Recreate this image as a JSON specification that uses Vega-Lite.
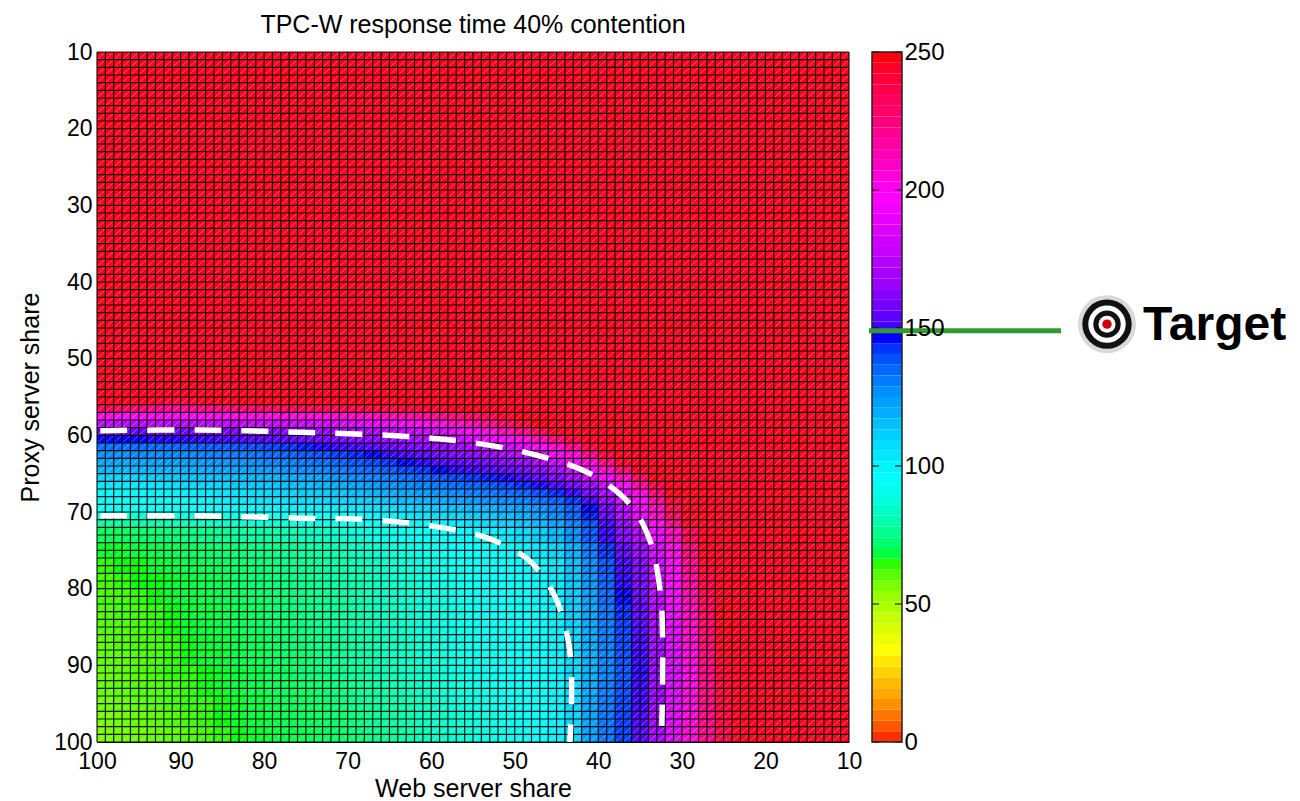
{"$schema":"https://vega.github.io/schema/vega-lite/v6.json","padding":{"left":18,"top":13,"right":0,"bottom":0},"bounds":"flush","spacing":23,"config":{"view":{"stroke":null},"font":"Liberation Sans","axis":{"grid":false,"ticks":false,"labelFlush":false,"labelFontSize":23,"titleFontSize":25,"titleFontWeight":"normal","labelColor":"#000","titleColor":"#000","domainColor":"#000"}},"hconcat":[{"width":752,"height":690,"title":{"text":"TPC-W response time 40% contention","fontSize":25,"fontWeight":"normal","color":"#000","offset":3},"encoding":{"color":{"field":"v","type":"quantitative","legend":null,"scale":{"domain":[0,33,65,97,146,197,250],"range":["#ff0000","#ffff00","#00ff00","#00ffff","#0000ff","#ff00ff","#ff0000"]}}},"layer":[{"data":{"values":[{"x":100,"xe":10,"y":10,"ye":100,"v":246}]},"mark":"rect","encoding":{"x":{"field":"x","type":"quantitative","scale":{"domain":[100,10],"nice":false,"zero":false},"axis":{"values":[100,90,80,70,60,50,40,30,20,10],"title":"Web server share","labelPadding":8,"titlePadding":3,"labelOverlap":false}},"x2":{"field":"xe"},"y":{"field":"y","type":"quantitative","scale":{"domain":[100,10],"nice":false,"zero":false},"axis":{"values":[100,90,80,70,60,50,40,30,20,10],"title":"Proxy server share","labelPadding":5,"titlePadding":10,"labelOverlap":false}},"y2":{"field":"ye"}}},{"data":{"format":{"type":"csv","parse":{"x":"number","y":"number","v":"number"}},"values":"x,y,v\n99,73,70\n97,73,70\n95,73,71\n93,73,72\n91,73,73\n89,73,74\n87,73,75\n85,73,76\n83,73,77\n81,73,78\n79,73,79\n77,73,80\n75,73,82\n73,73,83\n71,73,85\n69,73,87\n67,73,89\n65,73,91\n63,73,93\n61,73,95\n59,73,97\n57,73,99\n55,73,100\n53,73,102\n51,73,105\n49,73,108\n47,73,112\n45,73,118\n43,73,127\n41,73,138\n39,73,149\n37,73,161\n35,73,172\n33,73,190\n31,73,211\n29,73,234\n99,75,66\n97,75,66\n95,75,67\n93,75,68\n91,75,69\n89,75,70\n87,75,71\n85,75,72\n83,75,73\n81,75,74\n79,75,75\n77,75,76\n75,75,78\n73,75,79\n71,75,81\n69,75,83\n67,75,85\n65,75,87\n63,75,89\n61,75,91\n59,75,93\n57,75,95\n55,75,97\n53,75,98\n51,75,100\n49,75,102\n47,75,105\n45,75,111\n43,75,120\n41,75,132\n39,75,143\n37,75,154\n35,75,165\n33,75,182\n31,75,203\n29,75,226\n27,75,246\n99,77,64\n97,77,65\n95,77,65\n93,77,66\n91,77,67\n89,77,68\n87,77,69\n85,77,70\n83,77,71\n81,77,72\n79,77,73\n77,77,75\n75,77,76\n73,77,78\n71,77,79\n69,77,81\n67,77,83\n65,77,85\n63,77,87\n61,77,89\n59,77,91\n57,77,93\n55,77,95\n53,77,96\n51,77,98\n49,77,99\n47,77,101\n45,77,106\n43,77,116\n41,77,128\n39,77,139\n37,77,150\n35,77,161\n33,77,178\n31,77,199\n29,77,221\n27,77,243\n99,79,63\n97,79,64\n95,79,65\n93,79,65\n91,79,66\n89,79,67\n87,79,68\n85,79,69\n83,79,71\n81,79,72\n79,79,73\n77,79,74\n75,79,75\n73,79,77\n71,79,79\n69,79,80\n67,79,82\n65,79,84\n63,79,86\n61,79,88\n59,79,90\n57,79,92\n55,79,94\n53,79,96\n51,79,97\n49,79,98\n47,79,100\n45,79,105\n43,79,114\n41,79,126\n39,79,137\n37,79,148\n35,79,158\n33,79,175\n31,79,196\n29,79,218\n27,79,239\n99,81,63\n97,81,63\n95,81,64\n93,81,65\n91,81,66\n89,81,67\n87,81,68\n85,81,69\n83,81,70\n81,81,71\n79,81,72\n77,81,73\n75,81,75\n73,81,76\n71,81,78\n69,81,80\n67,81,82\n65,81,84\n63,81,86\n61,81,88\n59,81,90\n57,81,92\n55,81,94\n53,81,95\n51,81,97\n49,81,98\n47,81,100\n45,81,104\n43,81,113\n41,81,124\n39,81,135\n37,81,146\n35,81,156\n33,81,173\n31,81,193\n29,81,215\n27,81,236\n99,83,62\n97,83,63\n95,83,63\n93,83,64\n91,83,65\n89,83,66\n87,83,67\n85,83,68\n83,83,69\n81,83,70\n79,83,72\n77,83,73\n75,83,74\n73,83,76\n71,83,77\n69,83,79\n67,83,81\n65,83,83\n63,83,85\n61,83,87\n59,83,89\n57,83,91\n55,83,93\n53,83,95\n51,83,96\n49,83,98\n47,83,99\n45,83,103\n43,83,112\n41,83,123\n39,83,133\n37,83,144\n35,83,154\n33,83,171\n31,83,190\n29,83,212\n27,83,232\n25,83,248\n99,85,62\n97,85,62\n95,85,63\n93,85,64\n91,85,65\n89,85,66\n87,85,67\n85,85,68\n83,85,69\n81,85,70\n79,85,71\n77,85,72\n75,85,74\n73,85,75\n71,85,77\n69,85,79\n67,85,81\n65,85,83\n63,85,85\n61,85,87\n59,85,89\n57,85,91\n55,85,93\n53,85,94\n51,85,96\n49,85,97\n47,85,99\n45,85,103\n43,85,111\n41,85,122\n39,85,132\n37,85,142\n35,85,152\n33,85,169\n31,85,188\n29,85,209\n27,85,230\n25,85,247\n99,87,61\n97,87,62\n95,87,63\n93,87,63\n91,87,64\n89,87,65\n87,87,66\n85,87,67\n83,87,68\n81,87,69\n79,87,70\n77,87,72\n75,87,73\n73,87,74\n71,87,76\n69,87,78\n67,87,80\n65,87,82\n63,87,84\n61,87,86\n59,87,88\n57,87,90\n55,87,92\n53,87,94\n51,87,96\n49,87,97\n47,87,99\n45,87,102\n43,87,110\n41,87,121\n39,87,131\n37,87,141\n35,87,150\n33,87,167\n31,87,186\n29,87,207\n27,87,228\n25,87,246\n99,89,61\n97,89,61\n95,89,62\n93,89,63\n91,89,64\n89,89,65\n87,89,66\n85,89,67\n83,89,68\n81,89,69\n79,89,70\n77,89,71\n75,89,72\n73,89,74\n71,89,76\n69,89,78\n67,89,80\n65,89,82\n63,89,84\n61,89,86\n59,89,88\n57,89,90\n55,89,92\n53,89,94\n51,89,95\n49,89,97\n47,89,98\n45,89,102\n43,89,109\n41,89,120\n39,89,130\n37,89,140\n35,89,149\n33,89,165\n31,89,184\n29,89,205\n27,89,226\n25,89,245\n99,91,60\n97,91,61\n95,91,62\n93,91,63\n91,91,64\n89,91,64\n87,91,65\n85,91,66\n83,91,67\n81,91,68\n79,91,69\n77,91,70\n75,91,72\n73,91,73\n71,91,75\n69,91,77\n67,91,79\n65,91,81\n63,91,83\n61,91,85\n59,91,87\n57,91,89\n55,91,91\n53,91,93\n51,91,95\n49,91,96\n47,91,98\n45,91,101\n43,91,109\n41,91,120\n39,91,130\n37,91,139\n35,91,148\n33,91,164\n31,91,183\n29,91,203\n27,91,224\n25,91,243\n99,93,60\n97,93,61\n95,93,62\n93,93,62\n91,93,63\n89,93,64\n87,93,65\n85,93,66\n83,93,67\n81,93,68\n79,93,69\n77,93,70\n75,93,71\n73,93,72\n71,93,74\n69,93,76\n67,93,78\n65,93,80\n63,93,82\n61,93,84\n59,93,86\n57,93,88\n55,93,90\n53,93,92\n51,93,94\n49,93,96\n47,93,98\n45,93,101\n43,93,109\n41,93,121\n39,93,131\n37,93,140\n35,93,149\n33,93,165\n31,93,184\n29,93,204\n27,93,224\n25,93,242\n99,95,59\n97,95,60\n95,95,61\n93,95,62\n91,95,63\n89,95,64\n87,95,64\n85,95,65\n83,95,66\n81,95,67\n79,95,68\n77,95,69\n75,95,70\n73,95,71\n71,95,73\n69,95,75\n67,95,77\n65,95,79\n63,95,81\n61,95,83\n59,95,85\n57,95,87\n55,95,89\n53,95,91\n51,95,93\n49,95,95\n47,95,97\n45,95,101\n43,95,110\n41,95,122\n39,95,132\n37,95,141\n35,95,150\n33,95,166\n31,95,185\n29,95,205\n27,95,224\n25,95,241\n99,97,58\n97,97,59\n95,97,60\n93,97,61\n91,97,62\n89,97,63\n87,97,64\n85,97,65\n83,97,66\n81,97,67\n79,97,68\n77,97,69\n75,97,70\n73,97,71\n71,97,72\n69,97,74\n67,97,76\n65,97,78\n63,97,80\n61,97,82\n59,97,84\n57,97,86\n55,97,88\n53,97,90\n51,97,92\n49,97,95\n47,97,97\n45,97,101\n43,97,110\n41,97,123\n39,97,133\n37,97,142\n35,97,151\n33,97,167\n31,97,186\n29,97,206\n27,97,223\n25,97,240\n99,99,57\n97,99,58\n95,99,59\n93,99,60\n91,99,61\n89,99,62\n87,99,63\n85,99,64\n83,99,65\n81,99,66\n79,99,67\n77,99,68\n75,99,69\n73,99,70\n71,99,71\n69,99,73\n67,99,75\n65,99,77\n63,99,79\n61,99,81\n59,99,84\n57,99,86\n55,99,88\n53,99,90\n51,99,92\n49,99,94\n47,99,97\n45,99,101\n43,99,111\n41,99,124\n39,99,133\n37,99,142\n35,99,152\n33,99,168\n31,99,186\n29,99,206\n27,99,222\n25,99,238"},"mark":{"type":"rect","width":16.72,"height":15.34},"encoding":{"x":{"field":"x","type":"quantitative"},"y":{"field":"y","type":"quantitative"}}},{"data":{"format":{"type":"csv","parse":{"x":"number","y":"number","v":"number"}},"values":"x,y,v\n93,55.5,245\n91,55.5,240\n89,55.5,240\n87,55.5,245\n99,56.5,235\n97,56.5,230\n95,56.5,226\n93,56.5,222\n91,56.5,220\n89,56.5,220\n87,56.5,222\n85,56.5,225\n83,56.5,228\n81,56.5,230\n79,56.5,232\n77,56.5,233\n75,56.5,234\n73,56.5,235\n71,56.5,236\n69,56.5,237\n67,56.5,238\n65,56.5,239\n63,56.5,240\n61,56.5,241\n59,56.5,243\n57,56.5,245\n55,56.5,247\n99,57.5,200\n97,57.5,198\n95,57.5,197\n93,57.5,196\n91,57.5,196\n89,57.5,197\n87,57.5,198\n85,57.5,199\n83,57.5,200\n81,57.5,200\n79,57.5,201\n77,57.5,202\n75,57.5,203\n73,57.5,204\n71,57.5,206\n69,57.5,208\n67,57.5,210\n65,57.5,212\n63,57.5,215\n61,57.5,218\n59,57.5,222\n57,57.5,226\n55,57.5,231\n53,57.5,236\n51,57.5,242\n49,57.5,248\n99,58.5,175\n97,58.5,175\n95,58.5,175\n93,58.5,175\n91,58.5,175\n89,58.5,175\n87,58.5,176\n85,58.5,177\n83,58.5,177\n81,58.5,178\n79,58.5,179\n77,58.5,180\n75,58.5,181\n73,58.5,182\n71,58.5,184\n69,58.5,186\n67,58.5,188\n65,58.5,191\n63,58.5,194\n61,58.5,198\n59,58.5,202\n57,58.5,208\n55,58.5,214\n53,58.5,222\n51,58.5,230\n49,58.5,240\n47,58.5,248\n99,59.5,156\n97,59.5,156\n95,59.5,156\n93,59.5,157\n91,59.5,157\n89,59.5,158\n87,59.5,158\n85,59.5,159\n83,59.5,160\n81,59.5,160\n79,59.5,161\n77,59.5,162\n75,59.5,164\n73,59.5,165\n71,59.5,167\n69,59.5,169\n67,59.5,171\n65,59.5,174\n63,59.5,177\n61,59.5,180\n59,59.5,184\n57,59.5,189\n55,59.5,195\n53,59.5,203\n51,59.5,212\n49,59.5,222\n47,59.5,233\n45,59.5,245\n99,60.5,146\n97,60.5,146\n95,60.5,146\n93,60.5,147\n91,60.5,147\n89,60.5,148\n87,60.5,149\n85,60.5,150\n83,60.5,151\n81,60.5,152\n79,60.5,153\n77,60.5,154\n75,60.5,156\n73,60.5,157\n71,60.5,159\n69,60.5,161\n67,60.5,163\n65,60.5,166\n63,60.5,168\n61,60.5,171\n59,60.5,174\n57,60.5,178\n55,60.5,183\n53,60.5,188\n51,60.5,194\n49,60.5,202\n47,60.5,213\n45,60.5,226\n43,60.5,240\n99,61.5,134\n97,61.5,134\n95,61.5,135\n93,61.5,135\n91,61.5,136\n89,61.5,136\n87,61.5,137\n85,61.5,138\n83,61.5,139\n81,61.5,140\n79,61.5,142\n77,61.5,143\n75,61.5,145\n73,61.5,147\n71,61.5,149\n69,61.5,151\n67,61.5,153\n65,61.5,155\n63,61.5,158\n61,61.5,161\n59,61.5,164\n57,61.5,167\n55,61.5,171\n53,61.5,175\n51,61.5,180\n49,61.5,186\n47,61.5,195\n45,61.5,207\n43,61.5,222\n41,61.5,238\n99,62.5,127\n97,62.5,127\n95,62.5,128\n93,62.5,128\n91,62.5,129\n89,62.5,129\n87,62.5,130\n85,62.5,131\n83,62.5,132\n81,62.5,133\n79,62.5,135\n77,62.5,136\n75,62.5,138\n73,62.5,140\n71,62.5,142\n69,62.5,144\n67,62.5,146\n65,62.5,149\n63,62.5,151\n61,62.5,154\n59,62.5,157\n57,62.5,160\n55,62.5,163\n53,62.5,166\n51,62.5,170\n49,62.5,175\n47,62.5,182\n45,62.5,192\n43,62.5,206\n41,62.5,223\n39,62.5,240\n99,63.5,122\n97,63.5,122\n95,63.5,123\n93,63.5,123\n91,63.5,124\n89,63.5,124\n87,63.5,125\n85,63.5,126\n83,63.5,127\n81,63.5,128\n79,63.5,130\n77,63.5,131\n75,63.5,133\n73,63.5,135\n71,63.5,137\n69,63.5,139\n67,63.5,141\n65,63.5,143\n63,63.5,146\n61,63.5,148\n59,63.5,151\n57,63.5,153\n55,63.5,155\n53,63.5,158\n51,63.5,161\n49,63.5,165\n47,63.5,171\n45,63.5,179\n43,63.5,191\n41,63.5,207\n39,63.5,226\n37,63.5,243\n99,64.5,118\n97,64.5,118\n95,64.5,118\n93,64.5,119\n91,64.5,119\n89,64.5,120\n87,64.5,121\n85,64.5,122\n83,64.5,123\n81,64.5,124\n79,64.5,125\n77,64.5,127\n75,64.5,128\n73,64.5,130\n71,64.5,132\n69,64.5,134\n67,64.5,136\n65,64.5,138\n63,64.5,141\n61,64.5,143\n59,64.5,146\n57,64.5,148\n55,64.5,150\n53,64.5,152\n51,64.5,154\n49,64.5,157\n47,64.5,162\n45,64.5,169\n43,64.5,179\n41,64.5,192\n39,64.5,209\n37,64.5,228\n35,64.5,245\n99,65.5,110\n97,65.5,110\n95,65.5,111\n93,65.5,112\n91,65.5,113\n89,65.5,114\n87,65.5,115\n85,65.5,116\n83,65.5,117\n81,65.5,118\n79,65.5,119\n77,65.5,121\n75,65.5,122\n73,65.5,124\n71,65.5,126\n69,65.5,128\n67,65.5,130\n65,65.5,132\n63,65.5,134\n61,65.5,137\n59,65.5,139\n57,65.5,141\n55,65.5,143\n53,65.5,145\n51,65.5,147\n49,65.5,150\n47,65.5,154\n45,65.5,159\n43,65.5,167\n41,65.5,178\n39,65.5,193\n37,65.5,211\n35,65.5,231\n33,65.5,248\n99,66.5,105\n97,66.5,105\n95,66.5,105\n93,66.5,106\n91,66.5,107\n89,66.5,109\n87,66.5,110\n85,66.5,111\n83,66.5,113\n81,66.5,114\n79,66.5,115\n77,66.5,116\n75,66.5,117\n73,66.5,119\n71,66.5,121\n69,66.5,123\n67,66.5,125\n65,66.5,127\n63,66.5,129\n61,66.5,131\n59,66.5,133\n57,66.5,135\n55,66.5,137\n53,66.5,139\n51,66.5,141\n49,66.5,144\n47,66.5,147\n45,66.5,151\n43,66.5,157\n41,66.5,166\n39,66.5,180\n37,66.5,197\n35,66.5,217\n33,66.5,238\n99,67.5,100\n97,67.5,100\n95,67.5,100\n93,67.5,101\n91,67.5,102\n89,67.5,103\n87,67.5,104\n85,67.5,106\n83,67.5,107\n81,67.5,108\n79,67.5,110\n77,67.5,111\n75,67.5,112\n73,67.5,113\n71,67.5,115\n69,67.5,117\n67,67.5,119\n65,67.5,121\n63,67.5,123\n61,67.5,125\n59,67.5,127\n57,67.5,129\n55,67.5,131\n53,67.5,133\n51,67.5,135\n49,67.5,137\n47,67.5,140\n45,67.5,144\n43,67.5,149\n41,67.5,158\n39,67.5,170\n37,67.5,186\n35,67.5,205\n33,67.5,228\n31,67.5,248\n99,68.5,97\n97,68.5,97\n95,68.5,97\n93,68.5,98\n91,68.5,98\n89,68.5,99\n87,68.5,101\n85,68.5,102\n83,68.5,104\n81,68.5,105\n79,68.5,106\n77,68.5,107\n75,68.5,108\n73,68.5,109\n71,68.5,110\n69,68.5,111\n67,68.5,113\n65,68.5,115\n63,68.5,117\n61,68.5,119\n59,68.5,121\n57,68.5,123\n55,68.5,125\n53,68.5,127\n51,68.5,129\n49,68.5,131\n47,68.5,134\n45,68.5,137\n43,68.5,143\n41,68.5,151\n39,68.5,163\n37,68.5,178\n35,68.5,196\n33,68.5,218\n31,68.5,242\n99,69.5,94\n97,69.5,94\n95,69.5,95\n93,69.5,95\n91,69.5,96\n89,69.5,97\n87,69.5,98\n85,69.5,99\n83,69.5,100\n81,69.5,100\n79,69.5,101\n77,69.5,102\n75,69.5,102\n73,69.5,103\n71,69.5,104\n69,69.5,105\n67,69.5,107\n65,69.5,108\n63,69.5,110\n61,69.5,112\n59,69.5,114\n57,69.5,116\n55,69.5,118\n53,69.5,120\n51,69.5,122\n49,69.5,124\n47,69.5,127\n45,69.5,131\n43,69.5,137\n41,69.5,146\n39,69.5,157\n37,69.5,172\n35,69.5,190\n33,69.5,212\n31,69.5,236\n99,70.5,86\n97,70.5,86\n95,70.5,87\n93,70.5,87\n91,70.5,88\n89,70.5,88\n87,70.5,89\n85,70.5,90\n83,70.5,91\n81,70.5,92\n79,70.5,93\n77,70.5,94\n75,70.5,95\n73,70.5,96\n71,70.5,97\n69,70.5,99\n67,70.5,100\n65,70.5,102\n63,70.5,104\n61,70.5,106\n59,70.5,108\n57,70.5,110\n55,70.5,112\n53,70.5,114\n51,70.5,117\n49,70.5,120\n47,70.5,124\n45,70.5,129\n43,70.5,136\n41,70.5,145\n39,70.5,156\n37,70.5,171\n35,70.5,188\n33,70.5,209\n31,70.5,232\n99,71.5,78\n97,71.5,78\n95,71.5,79\n93,71.5,80\n91,71.5,81\n89,71.5,82\n87,71.5,83\n85,71.5,84\n83,71.5,85\n81,71.5,86\n79,71.5,87\n77,71.5,88\n75,71.5,89\n73,71.5,90\n71,71.5,92\n69,71.5,94\n67,71.5,96\n65,71.5,97\n63,71.5,99\n61,71.5,100\n59,71.5,102\n57,71.5,104\n55,71.5,106\n53,71.5,108\n51,71.5,111\n49,71.5,114\n47,71.5,118\n45,71.5,123\n43,71.5,130\n41,71.5,139\n39,71.5,150\n37,71.5,164\n35,71.5,180\n33,71.5,200\n31,71.5,222\n29,71.5,244"},"mark":{"type":"rect","width":16.72,"height":7.67},"encoding":{"x":{"field":"x","type":"quantitative"},"y":{"field":"y","type":"quantitative"}}},{"data":{"format":{"type":"csv","parse":{"a":"number","b":"number","c":"number","d":"number"}},"values":"a,b,c,d\n100,100,10,10\n100,99,11,10\n100,98,12,10\n100,97,13,10\n100,96,14,10\n100,95,15,10\n100,94,16,10\n100,93,17,10\n100,92,18,10\n100,91,19,10\n100,90,20,10\n100,89,21,10\n100,88,22,10\n100,87,23,10\n100,86,24,10\n100,85,25,10\n100,84,26,10\n100,83,27,10\n100,82,28,10\n100,81,29,10\n100,80,30,10\n100,79,31,10\n100,78,32,10\n100,77,33,10\n100,76,34,10\n100,75,35,10\n100,74,36,10\n100,73,37,10\n100,72,38,10\n100,71,39,10\n100,70,40,10\n100,69,41,10\n100,68,42,10\n100,67,43,10\n100,66,44,10\n100,65,45,10\n100,64,46,10\n100,63,47,10\n100,62,48,10\n100,61,49,10\n100,60,50,10\n100,59,51,10\n100,58,52,10\n100,57,53,10\n100,56,54,10\n100,55,55,10\n100,54,56,10\n100,53,57,10\n100,52,58,10\n100,51,59,10\n100,50,60,10\n100,49,61,10\n100,48,62,10\n100,47,63,10\n100,46,64,10\n100,45,65,10\n100,44,66,10\n100,43,67,10\n100,42,68,10\n100,41,69,10\n100,40,70,10\n100,39,71,10\n100,38,72,10\n100,37,73,10\n100,36,74,10\n100,35,75,10\n100,34,76,10\n100,33,77,10\n100,32,78,10\n100,31,79,10\n100,30,80,10\n100,29,81,10\n100,28,82,10\n100,27,83,10\n100,26,84,10\n100,25,85,10\n100,24,86,10\n100,23,87,10\n100,22,88,10\n100,21,89,10\n100,20,90,10\n100,19,91,10\n100,18,92,10\n100,17,93,10\n100,16,94,10\n100,15,95,10\n100,14,96,10\n100,13,97,10\n100,12,98,10\n100,11,99,10\n99,100,10,11\n98,100,10,12\n97,100,10,13\n96,100,10,14\n95,100,10,15\n94,100,10,16\n93,100,10,17\n92,100,10,18\n91,100,10,19\n90,100,10,20\n89,100,10,21\n88,100,10,22\n87,100,10,23\n86,100,10,24\n85,100,10,25\n84,100,10,26\n83,100,10,27\n82,100,10,28\n81,100,10,29\n80,100,10,30\n79,100,10,31\n78,100,10,32\n77,100,10,33\n76,100,10,34\n75,100,10,35\n74,100,10,36\n73,100,10,37\n72,100,10,38\n71,100,10,39\n70,100,10,40\n69,100,10,41\n68,100,10,42\n67,100,10,43\n66,100,10,44\n65,100,10,45\n64,100,10,46\n63,100,10,47\n62,100,10,48\n61,100,10,49\n60,100,10,50\n59,100,10,51\n58,100,10,52\n57,100,10,53\n56,100,10,54\n55,100,10,55\n54,100,10,56\n53,100,10,57\n52,100,10,58\n51,100,10,59\n50,100,10,60\n49,100,10,61\n48,100,10,62\n47,100,10,63\n46,100,10,64\n45,100,10,65\n44,100,10,66\n43,100,10,67\n42,100,10,68\n41,100,10,69\n40,100,10,70\n39,100,10,71\n38,100,10,72\n37,100,10,73\n36,100,10,74\n35,100,10,75\n34,100,10,76\n33,100,10,77\n32,100,10,78\n31,100,10,79\n30,100,10,80\n29,100,10,81\n28,100,10,82\n27,100,10,83\n26,100,10,84\n25,100,10,85\n24,100,10,86\n23,100,10,87\n22,100,10,88\n21,100,10,89\n20,100,10,90\n19,100,10,91\n18,100,10,92\n17,100,10,93\n16,100,10,94\n15,100,10,95\n14,100,10,96\n13,100,10,97\n12,100,10,98\n11,100,10,99"},"mark":{"type":"rule","stroke":"#ffffff","strokeOpacity":0.42,"strokeWidth":0.8},"encoding":{"color":{"value":null},"x":{"field":"a","type":"quantitative"},"y":{"field":"b","type":"quantitative"},"x2":{"field":"c"},"y2":{"field":"d"}}},{"data":{"format":{"type":"csv","parse":{"g":"number"}},"values":"g\n10\n11\n12\n13\n14\n15\n16\n17\n18\n19\n20\n21\n22\n23\n24\n25\n26\n27\n28\n29\n30\n31\n32\n33\n34\n35\n36\n37\n38\n39\n40\n41\n42\n43\n44\n45\n46\n47\n48\n49\n50\n51\n52\n53\n54\n55\n56\n57\n58\n59\n60\n61\n62\n63\n64\n65\n66\n67\n68\n69\n70\n71\n72\n73\n74\n75\n76\n77\n78\n79\n80\n81\n82\n83\n84\n85\n86\n87\n88\n89\n90\n91\n92\n93\n94\n95\n96\n97\n98\n99\n100"},"layer":[{"mark":{"type":"rule","stroke":"#000000","strokeWidth":1.15,"strokeOpacity":0.9},"encoding":{"color":{"value":null},"x":{"field":"g","type":"quantitative"}}},{"mark":{"type":"rule","stroke":"#000000","strokeWidth":1.15,"strokeOpacity":0.9},"encoding":{"color":{"value":null},"y":{"field":"g","type":"quantitative"}}}]},{"data":{"values":[{"s":"150","i":1,"x":99.6,"y":59.4},{"s":"150","i":2,"x":87.7,"y":59.3},{"s":"150","i":3,"x":75.7,"y":59.6},{"s":"150","i":4,"x":63.7,"y":60.1},{"s":"150","i":5,"x":55.4,"y":60.9},{"s":"150","i":6,"x":47,"y":62.7},{"s":"150","i":7,"x":41,"y":65},{"s":"150","i":8,"x":36.2,"y":69},{"s":"150","i":9,"x":33.8,"y":73.8},{"s":"150","i":10,"x":32.6,"y":80.3},{"s":"150","i":11,"x":32.3,"y":86.8},{"s":"150","i":12,"x":32.4,"y":97.9},{"s":"100","i":1,"x":99.6,"y":70.5},{"s":"100","i":2,"x":87.7,"y":70.5},{"s":"100","i":3,"x":75.7,"y":70.8},{"s":"100","i":4,"x":67.3,"y":71},{"s":"100","i":5,"x":60.1,"y":71.8},{"s":"100","i":6,"x":53,"y":73.5},{"s":"100","i":7,"x":48.2,"y":76.4},{"s":"100","i":8,"x":45.2,"y":81},{"s":"100","i":9,"x":43.6,"y":86.8},{"s":"100","i":10,"x":43.2,"y":92},{"s":"100","i":11,"x":43.4,"y":100}]},"mark":{"type":"line","stroke":"#ffffff","strokeWidth":5.5,"strokeDash":[27,20],"interpolate":"catmull-rom"},"encoding":{"color":{"value":null},"detail":{"field":"s"},"order":{"field":"i","type":"quantitative"},"x":{"field":"x","type":"quantitative"},"y":{"field":"y","type":"quantitative"}}}]},{"width":428,"height":690,"layer":[{"data":{"format":{"type":"csv","parse":{"lo":"number","hi":"number","m":"number"}},"values":"lo,hi,m\n0,3.9,2\n3.9,7.8,6\n7.8,11.7,10\n11.7,15.6,14\n15.6,19.5,18\n19.5,23.4,21\n23.4,27.3,25\n27.3,31.3,29\n31.3,35.2,33\n35.2,39.1,37\n39.1,43,41\n43,46.9,45\n46.9,50.8,49\n50.8,54.7,53\n54.7,58.6,57\n58.6,62.5,61\n62.5,66.4,64\n66.4,70.3,68\n70.3,74.2,72\n74.2,78.1,76\n78.1,82,80\n82,85.9,84\n85.9,89.8,88\n89.8,93.8,92\n93.8,97.7,96\n97.7,101.6,100\n101.6,105.5,104\n105.5,109.4,107\n109.4,113.3,111\n113.3,117.2,115\n117.2,121.1,119\n121.1,125,123\n125,128.9,127\n128.9,132.8,131\n132.8,136.7,135\n136.7,140.6,139\n140.6,144.5,143\n144.5,148.4,146\n148.4,152.3,150\n152.3,156.3,154\n156.3,160.2,158\n160.2,164.1,162\n164.1,168,166\n168,171.9,170\n171.9,175.8,174\n175.8,179.7,178\n179.7,183.6,182\n183.6,187.5,186\n187.5,191.4,189\n191.4,195.3,193\n195.3,199.2,197\n199.2,203.1,201\n203.1,207,205\n207,210.9,209\n210.9,214.8,213\n214.8,218.8,217\n218.8,222.7,221\n222.7,226.6,225\n226.6,230.5,229\n230.5,234.4,232\n234.4,238.3,236\n238.3,242.2,240\n242.2,246.1,244\n246.1,250,248"},"mark":"rect","encoding":{"x":{"datum":0,"type":"quantitative","scale":{"domain":[0,428],"nice":false,"zero":false},"axis":null},"x2":{"datum":30},"y":{"field":"lo","type":"quantitative","scale":{"domain":[0,250],"nice":false},"axis":{"orient":"right","offset":-398,"values":[0,50,100,150,200,250],"title":null,"domain":false,"labelPadding":2,"labelFontSize":24,"zindex":1}},"y2":{"field":"hi"},"color":{"field":"m","type":"quantitative","legend":null,"scale":{"domain":[0,33,65,97,146,197,250],"range":["#ff0000","#ffff00","#00ff00","#00ffff","#0000ff","#ff00ff","#ff0000"]}}}},{"data":{"values":[{"v":0},{"v":50},{"v":100},{"v":150},{"v":200},{"v":250}]},"layer":[{"mark":{"type":"rule","stroke":"#000","strokeWidth":1},"encoding":{"x":{"datum":0,"type":"quantitative","axis":null},"x2":{"datum":7},"y":{"field":"v","type":"quantitative"}}},{"mark":{"type":"rule","stroke":"#000","strokeWidth":1},"encoding":{"x":{"datum":23,"type":"quantitative","axis":null},"x2":{"datum":30},"y":{"field":"v","type":"quantitative"}}}]},{"data":{"values":[{"lo":0,"hi":250}]},"mark":{"type":"rect","fill":null,"stroke":"#222","strokeWidth":1.5},"encoding":{"x":{"datum":0,"type":"quantitative","axis":null},"x2":{"datum":30},"y":{"field":"lo","type":"quantitative"},"y2":{"field":"hi"}}},{"data":{"values":[{"target":149}]},"mark":{"type":"rule","stroke":"#339933","strokeWidth":5},"encoding":{"x":{"datum":-3,"type":"quantitative","axis":null},"x2":{"datum":189},"y":{"field":"target","type":"quantitative"}}},{"data":{"values":[{"x":235,"y":151.4,"label":"Target"}]},"encoding":{"x":{"field":"x","type":"quantitative","axis":null},"y":{"field":"y","type":"quantitative"}},"layer":[{"mark":{"type":"point","filled":true,"size":3364,"fill":"#d9d9d9","opacity":1,"stroke":null}},{"mark":{"type":"point","filled":true,"size":2440,"fill":"#111111","opacity":1,"stroke":null}},{"mark":{"type":"point","filled":true,"size":1400,"fill":"#ffffff","opacity":1,"stroke":null}},{"mark":{"type":"point","filled":true,"size":750,"fill":"#111111","opacity":1,"stroke":null}},{"mark":{"type":"point","filled":true,"size":289,"fill":"#ffffff","opacity":1,"stroke":null}},{"mark":{"type":"point","filled":true,"size":88,"fill":"#cc0000","opacity":1,"stroke":null}},{"mark":{"type":"text","align":"left","baseline":"middle","dx":36,"dy":2,"fontSize":48,"fontWeight":"bold","color":"#000"},"encoding":{"text":{"field":"label"}}}]}]}]}
